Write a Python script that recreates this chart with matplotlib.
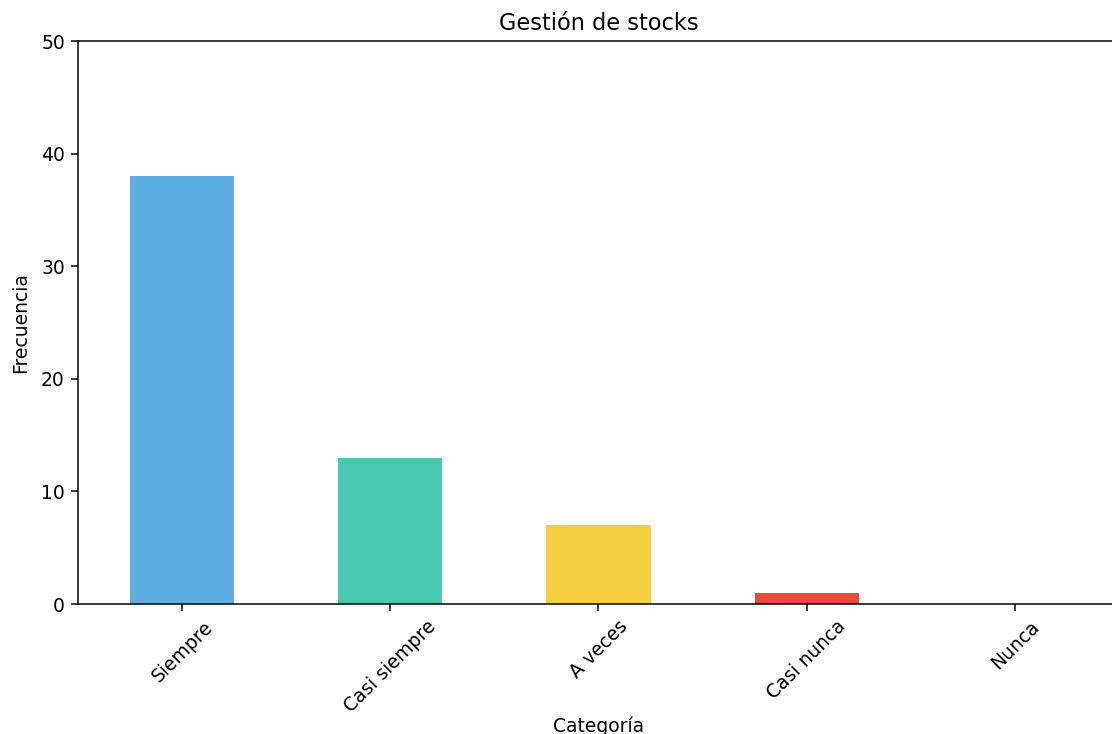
import matplotlib
matplotlib.use("Agg")
from matplotlib import pyplot as plt

categorias = ["Siempre", "Casi siempre", "A veces", "Casi nunca", "Nunca"]
frecuencias = [38, 13, 7, 1, 0]
colores = ["#5DADE2", "#48C9B0", "#F4D03F", "#E74C3C", "#95A5A6"]

dpi = 135
fig = plt.figure(figsize=(1112 / dpi, 734 / dpi), dpi=dpi)
# axes runs slightly past the right edge (reference is cropped)
ax = fig.add_axes([78 / 1112, 1 - 604 / 734, 1041 / 1112, 563 / 734])

x = range(len(categorias))
ax.bar(x, frecuencias, width=0.5, color=colores)
ax.set_xlim(-0.5, len(categorias) - 0.5)
ax.set_ylim(0, 50)
ax.set_xticks(list(x))
ax.set_xticklabels(categorias, rotation=45)
ax.set_title("Gestión de stocks")
ax.set_xlabel("Categoría", labelpad=0)
ax.set_ylabel("Frecuencia", labelpad=6)

fig.savefig("out.png", dpi=dpi)
